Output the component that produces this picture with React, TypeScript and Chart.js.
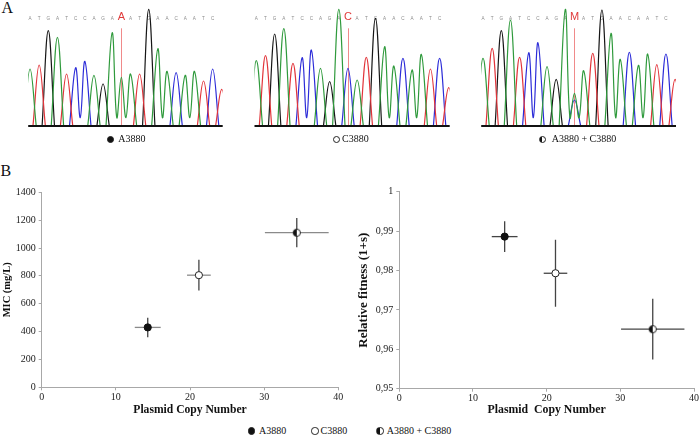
import React, { useEffect, useRef } from 'react';
import { Chart, registerables } from 'chart.js';

Chart.register(...registerables);

const SERIF = "'Liberation Serif', 'Times New Roman', Times, serif";
const SANS = "'Liberation Sans', Arial, Helvetica, sans-serif";

// ---------- Panel A: sequencing chromatograms ----------
const basesA3880 = 'ATGATCCAGAAATGAACAATCT';
const peaksA3880 = [171, 183, 286, 266, 156, 175, 194, 152, 126, 280, 146, 156, 156, 350, 232, 164, 160, 152, 164, 135, 171, 110];
const basesC3880 = 'ATGATCCAGACATGAACAATCT';
const peaksC3880 = [196, 211, 276, 292, 188, 205, 228, 173, 133, 350, 173, 138, 206, 323, 238, 180, 203, 168, 215, 171, 203, 115];
const basesMixed = 'ATGATCCAGAMATGAACAATCT';
const peaksMixed = [203, 233, 286, 318, 206, 220, 250, 178, 140, 350, 98, 166, 218, 348, 278, 200, 221, 182, 216, 184, 216, 140];
const mixedSecondPeak = 78; // C signal under the M call
const calledBases = ['A', 'C', 'M'];
const mutationIndex = 10;
const shownCalls = 21;
const channelColors: Record<string, string> = { A: '#2f9a3c', C: '#2c2cd8', G: '#161616', T: '#e2343a' };
const PEAK_HALF_WIDTH = 0.68;
const SAME_BASE_TROUGH = 25;
const SIGNAL_MAX = 378;

// ---------- Panel B: scatter data ----------
const strainLabels = ['A3880', 'C3880', 'A3880 + C3880'];
const copyNumber = [14.3, 21.2, 34.4];
const copyNumberErr = [1.75, 1.6, 4.3];
const micValues = [430, 805, 1110];
const micErr = [70, 110, 105];
const fitnessValues = [0.9886, 0.9793, 0.9651];
const fitnessErr = [0.0039, 0.0085, 0.0077];
const micTickLabels = ['0', '200', '400', '600', '800', '1000', '1200', '1400'];
const fitnessTickLabels = ['0,95', '0,96', '0,97', '0,98', '0,99', '1'];
const copyTickLabels = ['0', '10', '20', '30', '40'];

type Pt = { x: number; y: number | null };

function channelPoints(bases: string, peaks: number[], ch: string, secondPeak: number): Pt[] {
  const has = (b: string | undefined) => b === ch || (b === 'M' && (ch === 'A' || ch === 'C'));
  const heightAt = (i: number) => (bases[i] === 'M' && ch === 'C' ? secondPeak : peaks[i]);
  const pts: Pt[] = [];
  for (let i = 0; i < bases.length; i++) {
    if (!has(bases[i])) continue;
    if (!has(bases[i - 1])) pts.push({ x: i - PEAK_HALF_WIDTH, y: 0 });
    pts.push({ x: i, y: heightAt(i) });
    if (has(bases[i + 1])) pts.push({ x: i + 0.5, y: SAME_BASE_TROUGH });
    else {
      pts.push({ x: i + PEAK_HALF_WIDTH, y: 0 });
      pts.push({ x: i + PEAK_HALF_WIDTH + 0.01, y: null });
    }
  }
  return pts;
}

type ChromaProps = {
  left: number;
  width: number;
  padLeft: number;
  padRight: number;
  bases: string;
  peaks: number[];
  secondPeak: number;
  call: string;
};

function Chromatogram({ left, width, padLeft, padRight, bases, peaks, secondPeak, call }: ChromaProps) {
  const ref = useRef<HTMLCanvasElement>(null);
  useEffect(() => {
    if (!ref.current) return;
    const decor = {
      id: 'chromaDecor',
      beforeDatasetsDraw(chart: any) {
        const { ctx, chartArea, scales } = chart;
        const xs = scales.x;
        ctx.save();
        const mx = Math.round(xs.getPixelForValue(mutationIndex)) + 0.5;
        ctx.strokeStyle = '#f08a8a';
        ctx.lineWidth = 1;
        ctx.beginPath();
        ctx.moveTo(mx, 28.3);
        ctx.lineTo(mx, chartArea.bottom);
        ctx.stroke();
        ctx.textAlign = 'center';
        ctx.textBaseline = 'middle';
        for (let i = 0; i < shownCalls; i++) {
          const px = xs.getPixelForValue(i);
          if (i === mutationIndex) {
            ctx.fillStyle = '#e03a3a';
            ctx.font = `11px ${SANS}`;
            ctx.fillText(call, px, 17);
          } else {
            ctx.fillStyle = '#8c8c8c';
            ctx.font = `4.6px ${SANS}`;
            ctx.fillText(bases[i], px, 19);
          }
        }
        ctx.restore();
      },
      afterDatasetsDraw(chart: any) {
        const { ctx, chartArea } = chart;
        ctx.save();
        ctx.strokeStyle = '#111';
        ctx.lineWidth = 2;
        ctx.beginPath();
        ctx.moveTo(chartArea.left, chartArea.bottom);
        ctx.lineTo(chartArea.right, chartArea.bottom);
        ctx.stroke();
        ctx.restore();
      },
    };
    const datasets = ['A', 'T', 'G', 'C'].map((ch) => ({
      data: channelPoints(bases, peaks, ch, secondPeak),
      borderColor: channelColors[ch],
      borderWidth: 1.2,
      pointRadius: 0,
      tension: 0.4,
      spanGaps: false,
      fill: false,
    }));
    const chart = new Chart(ref.current, {
      type: 'line',
      data: { datasets } as any,
      options: {
        responsive: false,
        animation: false,
        events: [],
        layout: { padding: { left: padLeft, right: padRight, top: 0, bottom: 24 } },
        plugins: { legend: { display: false }, tooltip: { enabled: false } },
        scales: {
          x: { type: 'linear', display: false, min: -0.2, max: 21.1 },
          y: { type: 'linear', display: false, min: 0, max: SIGNAL_MAX },
        },
      } as any,
      plugins: [decor],
    });
    return () => chart.destroy();
  }, []);
  return (
    <canvas
      ref={ref}
      width={width}
      height={150}
      style={{ position: 'absolute', left, top: 0, width, height: 150 }}
    />
  );
}

function makeHalfMarker(r: number) {
  const size = 10;
  const c = document.createElement('canvas');
  c.width = size;
  c.height = size;
  const g = c.getContext('2d')!;
  const cx = size / 2;
  const cy = size / 2;
  g.fillStyle = '#fff';
  g.beginPath();
  g.arc(cx, cy, r, 0, Math.PI * 2);
  g.fill();
  g.fillStyle = '#111';
  g.beginPath();
  g.arc(cx, cy, r, Math.PI / 2, Math.PI * 1.5);
  g.closePath();
  g.fill();
  g.strokeStyle = '#222';
  g.lineWidth = 1;
  g.beginPath();
  g.arc(cx, cy, r, 0, Math.PI * 2);
  g.stroke();
  return c;
}

type ScatterProps = {
  left: number;
  values: number[];
  errs: number[];
  yMin: number;
  yMax: number;
  yStep: number;
  yTickLabels: string[];
  yTitle: string;
  yTitleSize: number;
  yTitlePad: number;
  xTitle: string;
  xTitleSize: number;
  yScaleWidth: number;
  padTop: number;
  padRight: number;
  xScaleHeight: number;
  xBarColor: string;
  yBarColor: string;
};

function ScatterPanel(p: ScatterProps) {
  const ref = useRef<HTMLCanvasElement>(null);
  useEffect(() => {
    if (!ref.current) return;
    const errorBars = {
      id: 'errorBars',
      beforeDatasetsDraw(chart: any) {
        const { ctx, scales } = chart;
        const xs = scales.x;
        const ys = scales.y;
        ctx.save();
        ctx.lineWidth = 1.3;
        for (let i = 0; i < copyNumber.length; i++) {
          const px = xs.getPixelForValue(copyNumber[i]);
          const py = ys.getPixelForValue(p.values[i]);
          ctx.strokeStyle = p.xBarColor;
          ctx.beginPath();
          ctx.moveTo(xs.getPixelForValue(copyNumber[i] - copyNumberErr[i]), py);
          ctx.lineTo(xs.getPixelForValue(copyNumber[i] + copyNumberErr[i]), py);
          ctx.stroke();
          ctx.strokeStyle = p.yBarColor;
          ctx.beginPath();
          ctx.moveTo(px, ys.getPixelForValue(p.values[i] - p.errs[i]));
          ctx.lineTo(px, ys.getPixelForValue(p.values[i] + p.errs[i]));
          ctx.stroke();
        }
        ctx.restore();
      },
    };
    const half = makeHalfMarker(3.6);
    const styles: any[] = [
      { pointStyle: 'circle', backgroundColor: '#111', borderColor: '#111' },
      { pointStyle: 'circle', backgroundColor: '#fff', borderColor: '#222' },
      { pointStyle: half, backgroundColor: '#fff', borderColor: '#222' },
    ];
    const datasets = strainLabels.map((label, i) => ({
      label,
      data: [{ x: copyNumber[i], y: p.values[i] }],
      pointRadius: 3.6,
      pointBorderWidth: 1,
      ...styles[i],
      pointBackgroundColor: styles[i].backgroundColor,
      pointBorderColor: styles[i].borderColor,
    }));
    const axisColor = '#a8a8a8';
    const chart = new Chart(ref.current, {
      type: 'scatter',
      data: { datasets } as any,
      options: {
        responsive: false,
        animation: false,
        events: [],
        layout: { padding: { left: 0, right: p.padRight, top: p.padTop, bottom: 0 } },
        plugins: { legend: { display: false }, tooltip: { enabled: false } },
        scales: {
          x: {
            type: 'linear',
            min: 0,
            max: 40,
            ticks: {
              stepSize: 10,
              color: '#222',
              padding: 1,
              font: { family: SERIF, size: 10 },
              callback: (_v: any, i: number) => copyTickLabels[i],
            },
            grid: { display: true, drawOnChartArea: false, drawTicks: true, tickLength: 3, color: axisColor },
            border: { color: axisColor, width: 1 },
            title: {
              display: true,
              text: p.xTitle,
              color: '#111',
              font: { family: SERIF, size: p.xTitleSize, weight: 'bold' },
              padding: { top: 0, bottom: 3 },
            },
            afterFit: (s: any) => {
              s.height = p.xScaleHeight;
            },
          },
          y: {
            type: 'linear',
            min: p.yMin,
            max: p.yMax,
            ticks: {
              stepSize: p.yStep,
              color: '#222',
              padding: 3,
              font: { family: SERIF, size: 10 },
              callback: (_v: any, i: number) => p.yTickLabels[i],
            },
            grid: { display: true, drawOnChartArea: false, drawTicks: true, tickLength: 3, color: axisColor },
            border: { color: axisColor, width: 1 },
            title: {
              display: true,
              text: p.yTitle,
              color: '#111',
              font: { family: SERIF, size: p.yTitleSize, weight: 'bold' },
              padding: { top: p.yTitlePad, bottom: 0 },
            },
            afterFit: (s: any) => {
              s.width = p.yScaleWidth;
            },
          },
        },
      } as any,
      plugins: [errorBars],
    });
    return () => chart.destroy();
  }, []);
  return (
    <canvas
      ref={ref}
      width={350}
      height={240}
      style={{ position: 'absolute', left: p.left, top: 180, width: 350, height: 240 }}
    />
  );
}

type MarkerKind = 'filled' | 'open' | 'half';

function LegendItem({ kind, cx, cy, textLeft, baseline, text }: { kind: MarkerKind; cx: number; cy: number; textLeft: number; baseline: number; text: string }) {
  const bg = kind === 'filled' ? '#111' : kind === 'open' ? '#fff' : 'linear-gradient(to right, #111 50%, #fff 50%)';
  const d = 7.4;
  return (
    <>
      <div
        style={{
          position: 'absolute',
          left: cx - d / 2,
          top: cy - d / 2,
          width: d,
          height: d,
          borderRadius: '50%',
          border: '1px solid #222',
          boxSizing: 'border-box',
          background: bg,
        }}
      />
      <div
        style={{
          position: 'absolute',
          left: textLeft,
          top: baseline - 8.4,
          fontFamily: SERIF,
          fontSize: 10,
          lineHeight: '10px',
          whiteSpace: 'nowrap',
          color: '#111',
        }}
      >
        {text}
      </div>
    </>
  );
}

function PanelLabel({ text, x, y }: { text: string; x: number; y: number }) {
  return (
    <div style={{ position: 'absolute', left: x, top: y, fontFamily: SERIF, fontSize: 16, lineHeight: '16px', color: '#111' }}>
      {text}
    </div>
  );
}

export default function App() {
  return (
    <div style={{ position: 'absolute', left: 0, top: 0, width: 700, height: 437, background: '#fff', overflow: 'hidden' }}>
      <PanelLabel text="A" x={1.5} y={0} />
      <PanelLabel text="B" x={0.5} y={162.6} />

      <Chromatogram left={0} width={233} padLeft={28.2} padRight={10.3} bases={basesA3880} peaks={peaksA3880} secondPeak={0} call={calledBases[0]} />
      <Chromatogram left={233} width={233} padLeft={21.5} padRight={16.3} bases={basesC3880} peaks={peaksC3880} secondPeak={0} call={calledBases[1]} />
      <Chromatogram left={466} width={234} padLeft={15.2} padRight={24} bases={basesMixed} peaks={peaksMixed} secondPeak={mixedSecondPeak} call={calledBases[2]} />

      <LegendItem kind="filled" cx={110.3} cy={139.3} textLeft={118.3} baseline={142.7} text={strainLabels[0]} />
      <LegendItem kind="open" cx={336.7} cy={139.3} textLeft={342} baseline={142.7} text={strainLabels[1]} />
      <LegendItem kind="half" cx={542.8} cy={139.3} textLeft={551.7} baseline={142.7} text={strainLabels[2]} />

      <ScatterPanel
        left={0}
        values={micValues}
        errs={micErr}
        yMin={0}
        yMax={1400}
        yStep={200}
        yTickLabels={micTickLabels}
        yTitle="MIC (mg/L)"
        yTitleSize={10.5}
        yTitlePad={0.8}
        xTitle="Plasmid Copy Number"
        xTitleSize={11.6}
        yScaleWidth={41.7}
        padTop={12.3}
        padRight={11.7}
        xScaleHeight={32.7}
        xBarColor="#8a8a8a"
        yBarColor="#444"
      />
      <ScatterPanel
        left={350}
        values={fitnessValues}
        errs={fitnessErr}
        yMin={0.95}
        yMax={1}
        yStep={0.01}
        yTickLabels={fitnessTickLabels}
        yTitle="Relative fitness (1+s)"
        yTitleSize={13}
        yTitlePad={6.2}
        xTitle="Plasmid  Copy Number"
        xTitleSize={11.8}
        yScaleWidth={49.3}
        padTop={11.7}
        padRight={5}
        xScaleHeight={31.3}
        xBarColor="#444"
        yBarColor="#444"
      />

      <LegendItem kind="filled" cx={251.7} cy={431} textLeft={259} baseline={434.3} text={strainLabels[0]} />
      <LegendItem kind="open" cx={315} cy={431} textLeft={320.5} baseline={434.3} text={strainLabels[1]} />
      <LegendItem kind="half" cx={380} cy={431} textLeft={386.7} baseline={434.3} text={strainLabels[2]} />
    </div>
  );
}
